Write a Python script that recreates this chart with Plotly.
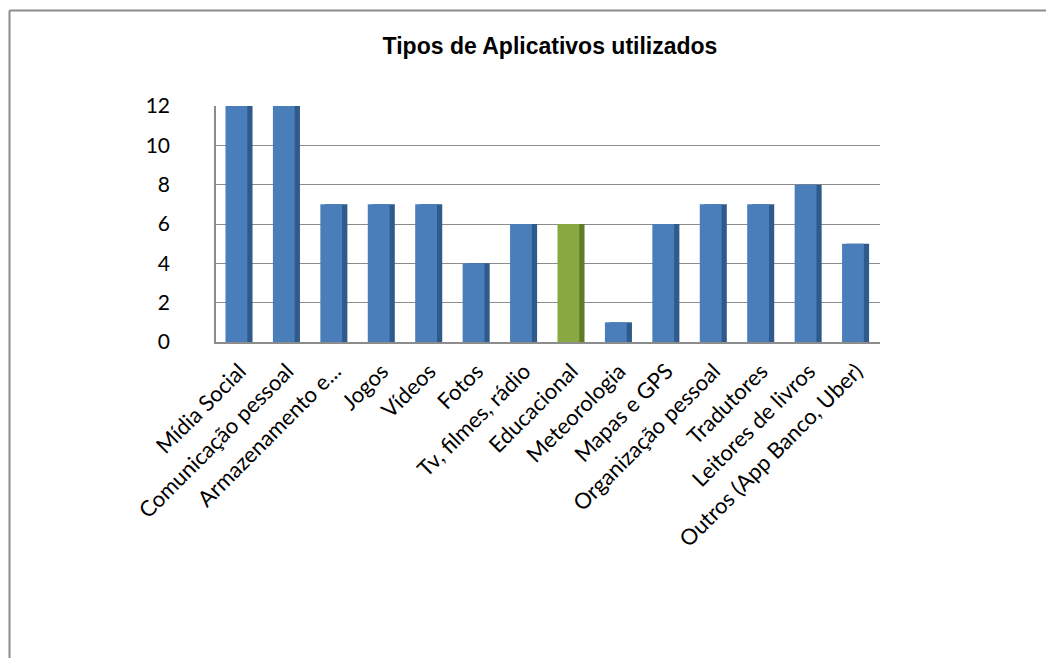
import plotly.graph_objects as go

categories = ["Mídia Social", "Comunicação pessoal", "Armazenamento e...", "Jogos", "Vídeos",
              "Fotos", "Tv, filmes, rádio", "Educacional", "Meteorologia", "Mapas e GPS",
              "Organização pessoal", "Tradutores", "Leitores de livros", "Outros (App Banco, Uber)"]
values = [12, 12, 7, 7, 7, 4, 6, 6, 1, 6, 7, 7, 8, 5]
highlight = "Educacional"
y_ticks = [0, 2, 4, 6, 8, 10, 12]

front_colors = ["#89A83F" if c == highlight else "#4A7EBB" for c in categories]
side_colors = ["#5F7A2A" if c == highlight else "#2F5A8C" for c in categories]

W, H = 1046, 658
L, R, T, B = 216, 166, 106, 316
pw, ph = W - L - R, H - T - B

fig = go.Figure()
fig.add_trace(go.Bar(x=categories, y=values, width=0.47, offset=-0.2,
                     marker=dict(color=side_colors, line=dict(width=0)),
                     hoverinfo="skip", showlegend=False))
fig.add_trace(go.Bar(x=categories, y=values, width=0.46, offset=-0.3,
                     marker=dict(color=front_colors, line=dict(width=0)),
                     showlegend=False))

def px2x(px):
    return (px - L) / pw

def py2y(py):
    return (H - B - py) / ph

fig.update_layout(
    width=W, height=H,
    margin=dict(l=L, r=R, t=T, b=B),
    paper_bgcolor="white", plot_bgcolor="white",
    barmode="overlay",
    font=dict(family="Lato, 'Open Sans', sans-serif", color="#000000"),
    title=dict(text="<b>Tipos de Aplicativos utilizados</b>", x=550 / W, xref="container",
               xanchor="center", y=1 - 46 / H, yref="container", yanchor="middle",
               font=dict(size=23, color="#000000", family="'Liberation Sans', Arial, sans-serif")),
    xaxis=dict(tickangle=-45, tickfont=dict(size=22), showline=True, linecolor="#8C8C8C",
               linewidth=1.5, ticks="", showgrid=False, ticklabelstandoff=6),
    yaxis=dict(range=[0, 12], tickvals=y_ticks, tickfont=dict(size=21), showgrid=True,
               gridcolor="#8C8C8C", gridwidth=1.3, showline=True, linecolor="#8C8C8C",
               linewidth=1.5, ticks="", ticklabelstandoff=40, zeroline=False),
    shapes=[
        dict(type="line", xref="paper", yref="paper", x0=px2x(9.5), x1=px2x(W),
             y0=py2y(10.5), y1=py2y(10.5), line=dict(color="#8C8C8C", width=2)),
        dict(type="line", xref="paper", yref="paper", x0=px2x(9.5), x1=px2x(9.5),
             y0=py2y(10.5), y1=py2y(H), line=dict(color="#8C8C8C", width=2)),
    ],
)

fig.write_html("out.html")
